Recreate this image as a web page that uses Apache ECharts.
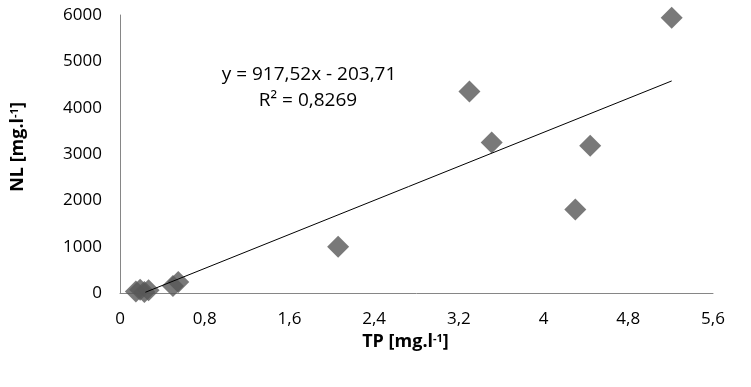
<!DOCTYPE html>
<html>
<head>
<meta charset="utf-8">
<script src="https://cdn.jsdelivr.net/npm/echarts@6/dist/echarts.min.js"></script>
<style>html,body{margin:0;padding:0;background:#fff}#c{width:751px;height:387px}</style>
</head>
<body>
<div id="c"></div>
<script>
// Data (TP mg/l vs NL mg/l)
const tpValues = [0.15, 0.19, 0.23, 0.27, 0.50, 0.55, 2.06, 3.30, 3.51, 4.30, 4.44, 5.21];
const nlValues = [30, 70, 20, 60, 150, 240, 1000, 4350, 3250, 1800, 3180, 5940];
// Linear trendline y = 917.52x - 203.71
const trendSlope = 917.52;
const trendIntercept = -203.71;
const trendXRange = [0.24, 5.21];
const equationText = 'y = 917,52x - 203,71';
const r2Text = 'R² = 0,8269';
const xTicks = {min: 0, max: 5.6, interval: 0.8};
const yTicks = {min: 0, max: 6000, interval: 1000};

const points = tpValues.map((x, i) => [x, nlValues[i]]);
const trend = trendXRange.map(x => [x, trendSlope * x + trendIntercept]);

const font = 'Open Sans';
const titleRich = {
  a: {fontFamily: font, fontWeight: 'bold', fontSize: 18, color: '#000'},
  s: {fontFamily: font, fontWeight: 'bold', fontSize: 11, color: '#000', verticalAlign: 'top', padding: [0, 0, 7, 0]}
};
const chart = echarts.init(document.getElementById('c'));
chart.setOption({
  animation: false,
  backgroundColor: '#fff',
  grid: {left: 120, right: 38, top: 15, bottom: 94, containLabel: false, outerBoundsMode: 'none'},
  xAxis: {
    type: 'value', min: xTicks.min, max: xTicks.max, interval: xTicks.interval,
    splitLine: {show: false},
    axisLine: {show: true, lineStyle: {color: '#868686', width: 1}},
    axisTick: {show: false},
    axisLabel: {
      margin: 18, color: '#000', fontFamily: font, fontSize: 17,
      formatter: v => (Math.round(v * 10) / 10).toString().replace('.', ',')
    },
    name: '{a|TP [mg.l}{s|-1}{a|]}',
    nameLocation: 'middle', nameGap: 38,
    nameTextStyle: {rich: titleRich, padding: [0, 22, 0, 0]}
  },
  yAxis: {
    type: 'value', min: yTicks.min, max: yTicks.max, interval: yTicks.interval,
    splitLine: {show: false},
    axisLine: {show: true, lineStyle: {color: '#868686', width: 1}},
    axisTick: {show: false},
    axisLabel: {margin: 18, color: '#000', fontFamily: font, fontSize: 17, formatter: v => String(v)},
    name: '{a|NL [mg.l}{s|-1}{a|]}',
    nameLocation: 'middle', nameGap: 93, nameRotate: 90,
    nameTextStyle: {rich: titleRich, padding: [0, 0, 0, 14]}
  },
  series: [
    {
      type: 'line', data: trend, symbol: 'none', silent: true,
      lineStyle: {color: '#000', width: 1}, z: 3
    },
    {
      type: 'scatter', data: points, symbol: 'diamond', symbolSize: 22,
      itemStyle: {color: '#575757'}, z: 2
    }
  ],
  graphic: [
    {type: 'text', x: 309, y: 75, style: {text: equationText, font: '19px "Open Sans"', fill: '#000', textAlign: 'center', textVerticalAlign: 'middle'}},
    {type: 'text', x: 308, y: 101, style: {text: r2Text, font: '19px "Open Sans"', fill: '#000', textAlign: 'center', textVerticalAlign: 'middle'}}
  ]
});
</script>
</body>
</html>
